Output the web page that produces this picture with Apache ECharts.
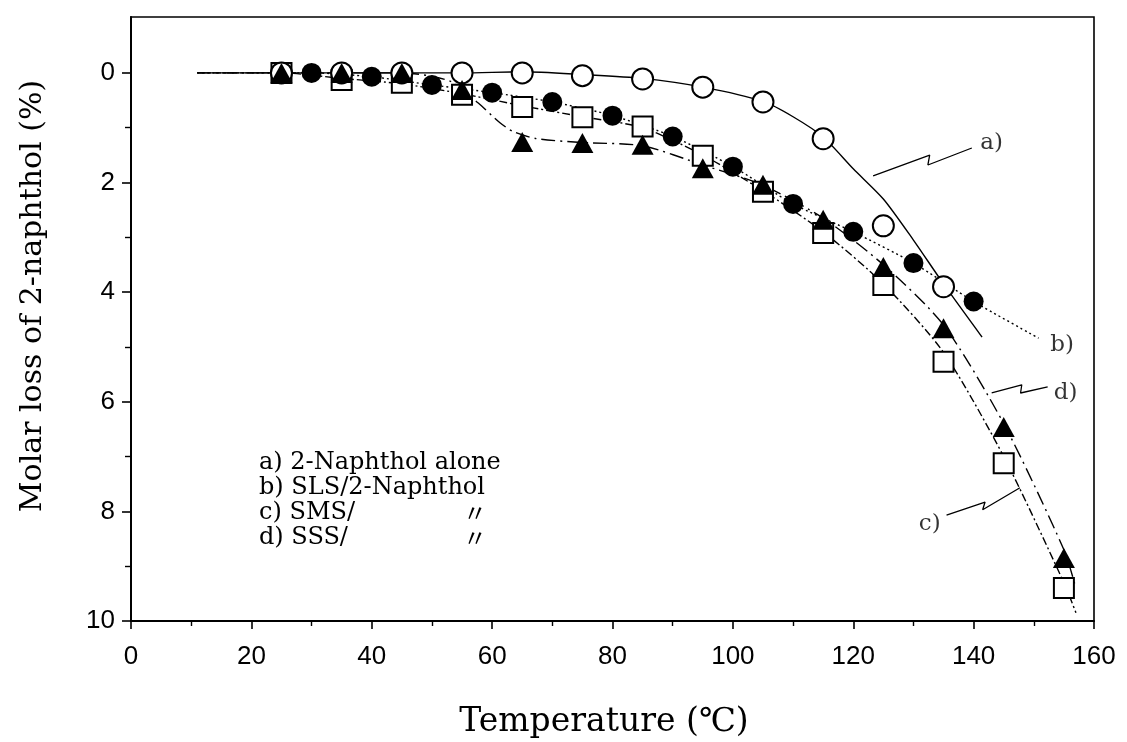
<!DOCTYPE html>
<html>
<head>
<meta charset="utf-8">
<script src="https://cdn.jsdelivr.net/npm/echarts@6/dist/echarts.min.js"></script>
<style>
  html, body { margin: 0; padding: 0; background: #fff; }
  #chart { width: 1127px; height: 742px; }
</style>
</head>
<body>
<div id="chart"></div>
<script>
// Measured points: molar loss of 2-naphthol (%) against temperature (°C)
const tempAlone = [25, 35, 45, 55, 65, 75, 85, 95, 105, 115, 125, 135];
const lossAlone = [0, 0, 0, 0, 0, 0.05, 0.11, 0.26, 0.53, 1.2, 2.79, 3.9];

const tempSLS = [30, 40, 50, 60, 70, 80, 90, 100, 110, 120, 130, 140];
const lossSLS = [0, 0.07, 0.22, 0.36, 0.53, 0.78, 1.16, 1.71, 2.39, 2.9, 3.47, 4.17];

const tempSMS = [25, 35, 45, 55, 65, 75, 85, 95, 105, 115, 125, 135, 145, 155];
const lossSMS = [0, 0.13, 0.18, 0.4, 0.62, 0.81, 0.98, 1.51, 2.17, 2.92, 3.87, 5.27, 7.12, 9.4];

const tempSSS = [25, 35, 45, 55, 65, 75, 85, 95, 105, 115, 125, 135, 145, 155];
const lossSSS = [0, 0, 0, 0.31, 1.26, 1.28, 1.31, 1.74, 2.04, 2.68, 3.54, 4.66, 6.46, 8.85];

// Hand-drawn trend curves through each data set
const curveAloneT = [11, 55, 65, 75, 85, 95, 105, 110, 115, 120, 125, 130, 135, 141.4];
const curveAloneL = [0, 0, -0.02, 0.03, 0.1, 0.26, 0.52, 0.8, 1.17, 1.75, 2.3, 3.05, 3.85, 4.82];

const curveSLST = [11, 30, 40, 50, 60, 70, 80, 90, 100, 110, 120, 130, 140, 150.8];
const curveSLSL = [0, 0, 0.07, 0.22, 0.36, 0.53, 0.78, 1.16, 1.71, 2.39, 2.9, 3.47, 4.17, 4.84];

const curveSMST = [11, 25, 35, 45, 55, 65, 75, 85, 95, 105, 115, 125, 135, 145, 155, 157];
const curveSMSL = [0, 0, 0.1, 0.2, 0.38, 0.6, 0.8, 1.0, 1.5, 2.15, 2.9, 3.85, 5.1, 7.0, 9.3, 9.85];

const curveSSST = [11, 45, 53, 57.7, 61.3, 63.5, 67.4, 75, 85, 95, 105, 115, 125, 135, 145, 155, 157];
const curveSSSL = [0, 0, 0.15, 0.55, 0.91, 1.07, 1.2, 1.27, 1.33, 1.68, 2.05, 2.65, 3.5, 4.6, 6.4, 8.7, 9.4];

// Axis tick labels
const xTickLabels = [0, 20, 40, 60, 80, 100, 120, 140, 160];
const xMinorTicks = [10, 30, 50, 70, 90, 110, 130, 150];
const yTickLabels = [0, 2, 4, 6, 8, 10];
const yMinorTicks = [1, 3, 5, 7, 9];

// Curve tags with zig-zag leader lines (data units)
const tagText = ['a)', 'b)', 'c)', 'd)'];
const tagAt = [[143.0, 1.28], [154.7, 4.96], [132.7, 8.23], [155.3, 5.84]];
const leaderA = [[123.3, 1.88], [132.7, 1.50], [132.4, 1.68], [139.7, 1.37]];
const leaderC = [[135.5, 8.07], [141.9, 7.83], [141.5, 7.97], [147.7, 7.57]];
const leaderD = [[143.0, 5.84], [148.0, 5.69], [147.8, 5.84], [152.3, 5.73]];

// Key text
const keyLines = ['a) 2-Naphthol alone', 'b) SLS/2-Naphthol', 'c) SMS/', 'd) SSS/'];
const dittoMark = '\u3003';

const pair = (xs, ys) => xs.map((x, i) => [x, ys[i]]);

const SERIF = '"DejaVu Serif", "Liberation Serif", serif';
const SANS = '"Liberation Sans", Arial, sans-serif';
const INK = '#000';

const chart = echarts.init(document.getElementById('chart'), null, { renderer: 'canvas' });

function curve(xs, ys, dash, width) {
  return {
    type: 'line', data: pair(xs, ys), smooth: 0.25, showSymbol: false, symbol: 'none',
    silent: true, z: 1,
    lineStyle: { color: INK, width: width || 1.3, type: dash }
  };
}
function leader(pts) {
  return {
    type: 'line', data: pts, smooth: false, symbol: 'none', silent: true, z: 1,
    lineStyle: { color: INK, width: 1.3, type: 'solid' }
  };
}
function markers(xs, ys, symbol, size, fill, border, z) {
  return {
    type: 'scatter', data: pair(xs, ys), symbol: symbol, symbolSize: size, z: z, silent: true,
    itemStyle: { color: fill, borderColor: INK, borderWidth: border, opacity: 1 }
  };
}

const keyText = [];
keyLines.forEach((t, i) => {
  keyText.push({ type: 'text', left: 259, top: 451 + i * 25, style: { text: t, font: '24px ' + SERIF, fill: INK } });
});
[2, 3].forEach(i => {
  keyText.push({ type: 'text', left: 463, top: 451 + i * 25, style: { text: dittoMark, font: '24px "Noto Sans CJK JP"', fill: INK } });
});

const option = {
  animation: false,
  backgroundColor: '#fff',
  grid: {
    left: 131, right: 33, top: 17, bottom: 121,
    show: true, borderColor: INK, borderWidth: 1.6, backgroundColor: 'transparent'
  },
  xAxis: [
    {
      type: 'value', min: 0, max: 160, position: 'bottom',
      axisLine: { show: true, onZero: false, lineStyle: { color: INK, width: 2 } },
      axisTick: { show: true, length: 8, inside: false, customValues: xTickLabels, lineStyle: { color: INK, width: 1.6 } },
      axisLabel: { show: true, customValues: xTickLabels, margin: 23, fontFamily: SANS, fontSize: 26, color: INK },
      splitLine: { show: false }
    },
    {
      type: 'value', min: 0, max: 160, position: 'bottom',
      axisLine: { show: false, onZero: false },
      axisTick: { show: true, length: 5, customValues: xMinorTicks, lineStyle: { color: INK, width: 1.4 } },
      axisLabel: { show: false },
      splitLine: { show: false }
    }
  ],
  yAxis: [
    {
      type: 'value', min: -1.02, max: 10, inverse: true, position: 'left',
      axisLine: { show: true, onZero: false, lineStyle: { color: INK, width: 2 } },
      axisTick: { show: true, length: 9, customValues: yTickLabels, lineStyle: { color: INK, width: 1.6 } },
      axisLabel: { show: true, customValues: yTickLabels, margin: 16, fontFamily: SANS, fontSize: 26, color: INK },
      splitLine: { show: false }
    },
    {
      type: 'value', min: -1.02, max: 10, inverse: true, position: 'left',
      axisLine: { show: false, onZero: false },
      axisTick: { show: true, length: 6, customValues: yMinorTicks, lineStyle: { color: INK, width: 1.4 } },
      axisLabel: { show: false },
      splitLine: { show: false }
    }
  ],
  series: [
    // trend curves: a) solid, b) dotted, c) dash-dot, d) long dash-dot
    curve(curveAloneT, curveAloneL, 'solid', 1.4),
    curve(curveSLST, curveSLSL, [2, 3], 1.4),
    curve(curveSMST, curveSMSL, [8, 3, 2, 3], 1.4),
    curve(curveSSST, curveSSSL, [14, 5, 2, 5], 1.4),
    // leader lines
    leader(leaderA), leader(leaderC), leader(leaderD),
    // markers
    markers(tempSMS, lossSMS, 'rect', 20, '#fff', 2, 3),
    markers(tempAlone, lossAlone, 'circle', 21, '#fff', 2, 4),
    markers(tempSLS, lossSLS, 'circle', 20, INK, 0, 5),
    markers(tempSSS, lossSSS, 'triangle', [22, 20], INK, 0, 6),
    // curve tags
    {
      type: 'scatter', silent: true, z: 7,
      data: tagAt.map((p, i) => ({ value: p, name: tagText[i] })),
      symbol: 'circle', symbolSize: 1,
      itemStyle: { color: 'rgba(0,0,0,0)' },
      label: {
        show: true, position: 'inside', formatter: p => p.name,
        fontFamily: SERIF, fontSize: 23, color: INK
      }
    }
  ],
  graphic: [
    {
      type: 'text', x: 33, y: 296, rotation: Math.PI / 2,
      style: { text: 'Molar loss of 2-naphthol (%)', font: '30px ' + SERIF, fill: INK, align: 'center', verticalAlign: 'middle' }
    },
    {
      type: 'text', x: 604, y: 722,
      style: { text: 'Temperature (\u2103)', font: '33px ' + SERIF, fill: INK, align: 'center', verticalAlign: 'middle' }
    }
  ].concat(keyText)
};

chart.setOption(option);
</script>
</body>
</html>
